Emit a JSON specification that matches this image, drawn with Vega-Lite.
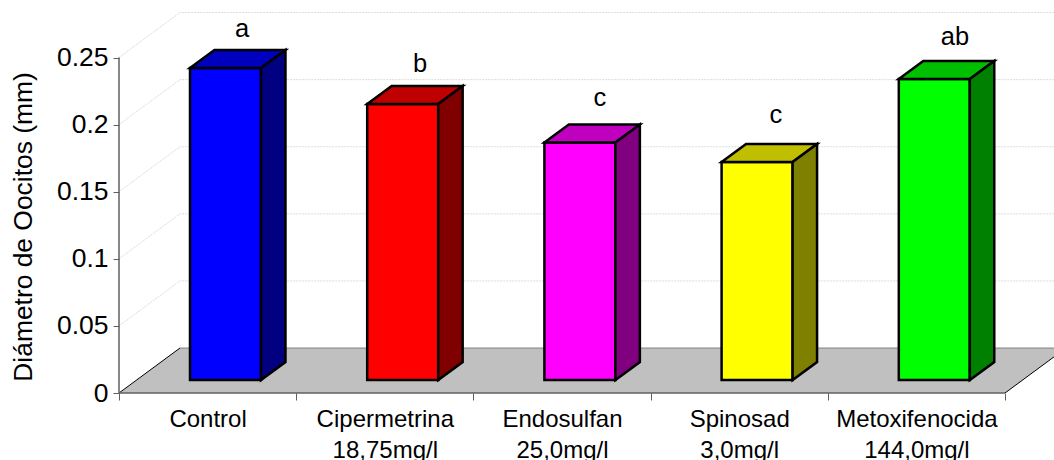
{
"$schema":"https://vega.github.io/schema/vega-lite/v6.json",
"width":935,"height":393,
"autosize":{"type":"none"},
"padding":{"left":119,"top":0,"right":0,"bottom":67},
"background":"white",
"config":{"view":{"stroke":null},"font":"Liberation Sans"},
"datasets":{
"bars":[
{"name":"Control","value":0.2325,"sig":"a","sigPos":0.694,"sigLevel":0.2653},
{"name":"Cipermetrina 18,75mg/l","value":0.2057,"sig":"b","sigPos":1.699,"sigLevel":0.2392},
{"name":"Endosulfan 25,0mg/l","value":0.177,"sig":"c","sigPos":2.714,"sigLevel":0.2139},
{"name":"Spinosad 3,0mg/l","value":0.1624,"sig":"c","sigPos":3.707,"sigLevel":0.2012},
{"name":"Metoxifenocida 144,0mg/l","value":0.2243,"sig":"ab","sigPos":4.718,"sigLevel":0.2593}
],
"grid":[{"v":0.05},{"v":0.1},{"v":0.15},{"v":0.2},{"v":0.25}],
"floor":[{"depth":0,"left":0,"right":5},{"depth":0.0335,"left":0.344,"right":5.344}]
},
"data":{"name":"bars"},
"transform":[
{"window":[{"op":"row_number","as":"idx"}]},
{"calculate":"datum.idx-1+0.4007","as":"xl"},
{"calculate":"datum.xl+0.4007","as":"xr"},
{"calculate":"0.0097+datum.value","as":"top"},
{"calculate":"[0,1]","as":"t"},
{"flatten":["t"]},
{"calculate":"datum.xl+datum.t*0.138","as":"txl"},
{"calculate":"datum.xr+datum.t*0.138","as":"txr"},
{"calculate":"datum.top+datum.t*0.0134","as":"tyt"},
{"calculate":"0.0097+datum.t*0.0134","as":"tyb"}
],
"layer":[
{"data":{"name":"grid"},
 "transform":[{"calculate":"[0,1,2]","as":"p"},{"flatten":["p"]},
  {"calculate":"datum.p==0?0:datum.p==1?0.344:5.2765","as":"gx"},
  {"calculate":"datum.v+(datum.p==0?0:0.0335)","as":"gy"}],
 "mark":{"type":"line","stroke":"#dcdcdc","strokeWidth":1,"strokeDash":[2,1],"clip":true},
 "encoding":{
  "x":{"field":"gx","type":"quantitative","scale":{"domain":[0,5.2765],"nice":false,"zero":false},"axis":null},
  "y":{"field":"gy","type":"quantitative","scale":{"domain":[0,0.29285],"nice":false,"zero":false},"axis":null},
  "detail":{"field":"v"},
  "order":{"field":"p"}}},
{"data":{"name":"floor"},"transform":[],
 "mark":{"type":"area","orient":"horizontal","fill":"#c0c0c0","clip":true},
 "encoding":{
  "x":{"field":"left","type":"quantitative","scale":{"domain":[0,5.2765],"nice":false,"zero":false},"axis":null},
  "x2":{"field":"right"},
  "y":{"field":"depth","type":"quantitative","scale":{"domain":[0,0.29285],"nice":false,"zero":false},"axis":null}}},
{"data":{"name":"floor"},"transform":[],
 "mark":{"type":"line","stroke":"#000000","strokeWidth":1,"clip":true},
 "encoding":{
  "x":{"field":"left","type":"quantitative","scale":{"domain":[0,5.2765],"nice":false,"zero":false},"axis":null},
  "y":{"field":"depth","type":"quantitative","scale":{"domain":[0,0.29285],"nice":false,"zero":false},"axis":null}}},
{"data":{"name":"floor"},"transform":[],
 "mark":{"type":"line","stroke":"#000000","strokeWidth":1,"clip":true},
 "encoding":{
  "x":{"field":"right","type":"quantitative","scale":{"domain":[0,5.2765],"nice":false,"zero":false},"axis":null},
  "y":{"field":"depth","type":"quantitative","scale":{"domain":[0,0.29285],"nice":false,"zero":false},"axis":null}}},
{"data":{"values":[{"a":0.344,"b":5.2765,"c":0.0335}]},"transform":[],
 "mark":{"type":"rule","stroke":"#808080","strokeWidth":1},
 "encoding":{
  "x":{"field":"a","type":"quantitative","scale":{"domain":[0,5.2765],"nice":false,"zero":false},"axis":null},
  "x2":{"field":"b"},
  "y":{"field":"c","type":"quantitative","scale":{"domain":[0,0.29285],"nice":false,"zero":false},"axis":null}}},
{"data":{"values":[{"a":0,"b":5,"c":0}]},"transform":[],
 "mark":{"type":"rule","stroke":"#606060","strokeWidth":1.5},
 "encoding":{
  "x":{"field":"a","type":"quantitative","scale":{"domain":[0,5.2765],"nice":false,"zero":false},
   "axis":{"orient":"bottom","values":[0,1,2,3,4,5],"labels":false,"domain":false,"grid":false,"ticks":true,"tickSize":7,"tickColor":"#606060","tickWidth":1,"title":null}},
  "x2":{"field":"b"},
  "y":{"field":"c","type":"quantitative","scale":{"domain":[0,0.29285],"nice":false,"zero":false},"axis":null}}},
{"data":{"values":[{"a":0,"lo":0,"hi":0.25}]},"transform":[],
 "mark":{"type":"rule","stroke":"#606060","strokeWidth":1.5},
 "encoding":{
  "x":{"field":"a","type":"quantitative","scale":{"domain":[0,5.2765],"nice":false,"zero":false},"axis":null},
  "y":{"field":"lo","type":"quantitative","scale":{"domain":[0,0.29285],"nice":false,"zero":false},
   "axis":{"orient":"left","values":[0,0.05,0.1,0.15,0.2,0.25],"format":"~g","domain":false,"grid":false,"tickSize":6,"tickColor":"#606060","tickWidth":1,"labelFontSize":26.5,"labelColor":"#000000","labelPadding":5,"labelFont":"Liberation Sans","title":"Diámetro de Oocitos (mm)","titleFontSize":26.4,"titleFontWeight":"normal","titleFont":"Liberation Sans","titleColor":"#000000","titleX":-88,"titleY":226.5,"titleAngle":-90,"titleAlign":"center","titleBaseline":"alphabetic"}},
  "y2":{"field":"hi"}}},
{"transform":[{"filter":"datum.t==0"}],
 "mark":{"type":"rect","stroke":"#000000","strokeWidth":2.5,"strokeJoin":"miter"},
 "encoding":{
  "x":{"field":"xl","type":"quantitative","scale":{"domain":[0,5.2765],"nice":false,"zero":false},
   "axis":{"orient":"bottom","values":[0.5,1.5,2.5,3.5,4.5],"domain":false,"grid":false,"ticks":false,"title":null,"labelFontSize":24,"labelColor":"#000000","labelFont":"Liberation Sans","labelPadding":14,"labelLineHeight":31,"labelBaseline":"top","labelAlign":"center","labelFlush":false,"labelOverlap":false,
    "labelExpr":"datum.value<1?'Control':datum.value<2?['Cipermetrina','18,75mg/l']:datum.value<3?['Endosulfan','25,0mg/l']:datum.value<4?['Spinosad','3,0mg/l']:['Metoxifenocida','144,0mg/l']"}},
  "x2":{"field":"xr"},
  "y":{"field":"top","type":"quantitative","scale":{"domain":[0,0.29285],"nice":false,"zero":false},"axis":null},
  "y2":{"datum":0.0097},
  "color":{"field":"name","type":"nominal","sort":null,"legend":null,"scale":{"domain":["Control","Cipermetrina 18,75mg/l","Endosulfan 25,0mg/l","Spinosad 3,0mg/l","Metoxifenocida 144,0mg/l"],"range":["#0000ff","#ff0000","#ff00ff","#ffff00","#00ff00"]}}}},
{"mark":{"type":"area","orient":"horizontal","stroke":"#000000","strokeWidth":2.5,"strokeJoin":"miter"},
 "encoding":{
  "x":{"field":"txl","type":"quantitative","scale":{"domain":[0,5.2765],"nice":false,"zero":false},"axis":null},
  "x2":{"field":"txr"},
  "y":{"field":"tyt","type":"quantitative","scale":{"domain":[0,0.29285],"nice":false,"zero":false},"axis":null},
  "color":{"field":"name","type":"nominal","sort":null,"legend":null,"scale":{"domain":["Control","Cipermetrina 18,75mg/l","Endosulfan 25,0mg/l","Spinosad 3,0mg/l","Metoxifenocida 144,0mg/l"],"range":["#0000bf","#bf0000","#bf00bf","#bfbf00","#00bf00"]}}}},
{"mark":{"type":"area","orient":"vertical","stroke":"#000000","strokeWidth":2.5,"strokeJoin":"miter"},
 "encoding":{
  "x":{"field":"txr","type":"quantitative","scale":{"domain":[0,5.2765],"nice":false,"zero":false},"axis":null},
  "y":{"field":"tyt","type":"quantitative","scale":{"domain":[0,0.29285],"nice":false,"zero":false},"axis":null},
  "y2":{"field":"tyb"},
  "color":{"field":"name","type":"nominal","sort":null,"legend":null,"scale":{"domain":["Control","Cipermetrina 18,75mg/l","Endosulfan 25,0mg/l","Spinosad 3,0mg/l","Metoxifenocida 144,0mg/l"],"range":["#000080","#800000","#800080","#808000","#008000"]}}}},
{"transform":[{"filter":"datum.t==0"}],
 "mark":{"type":"text","fontSize":25.5,"font":"Liberation Sans","color":"#000000","baseline":"alphabetic","align":"center"},
 "encoding":{
  "x":{"field":"sigPos","type":"quantitative","scale":{"domain":[0,5.2765],"nice":false,"zero":false},"axis":null},
  "y":{"field":"sigLevel","type":"quantitative","scale":{"domain":[0,0.29285],"nice":false,"zero":false},"axis":null},
  "text":{"field":"sig"}}}
],
"resolve":{"axis":{"x":"independent","y":"independent"},"scale":{"color":"independent"}}
}
